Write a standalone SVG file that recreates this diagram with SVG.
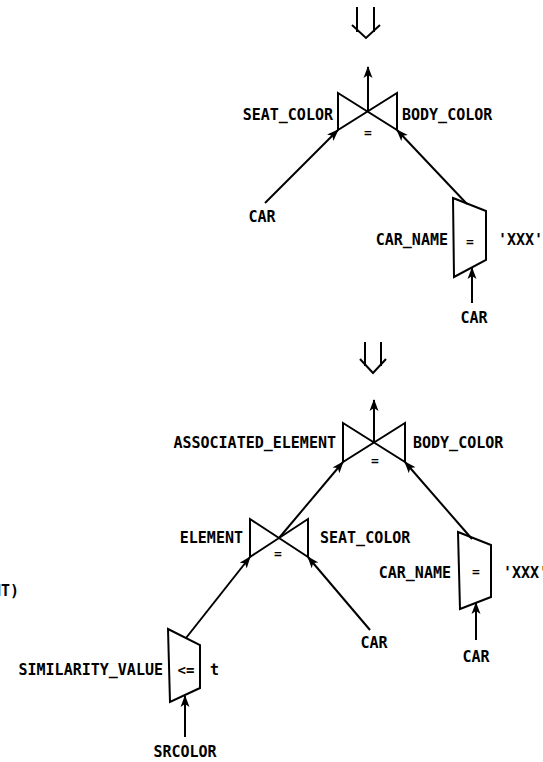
<svg xmlns="http://www.w3.org/2000/svg" width="543" height="762" viewBox="0 0 543 762">
<defs>
<marker id="ah" markerWidth="12" markerHeight="10" refX="11" refY="5" orient="auto" markerUnits="userSpaceOnUse">
<path d="M0,0.5 L12,5 L0,9.5 L3,5 Z" fill="#000"/>
</marker>
</defs>
<style>
.t{font-family:"DejaVu Sans Mono","Liberation Mono",monospace;font-weight:bold;font-size:15px;fill:#000}
.m{text-anchor:middle}
.e{text-anchor:end}
.op{font-size:13px}
.s{fill:none;stroke:#000;stroke-width:2;stroke-linejoin:miter}
.c{fill:none;stroke:#000;stroke-width:2}
</style>
<rect width="543" height="762" fill="#fff"/>

<g id="transform1">
<path class="s" d="M357,7 V32 M374,7 V32 M352,25 L366,38 L380,25"/>
</g>

<g id="join1">
<path class="s" d="M338,93 L397,130 L397,93 L338,130 Z"/>
<text class="t m op" x="368" y="137">=</text>
<text class="t e" x="333" y="120">SEAT_COLOR</text>
<text class="t" x="402" y="120">BODY_COLOR</text>
</g>

<g id="car1"><text class="t m" x="262" y="222">CAR</text></g>

<g id="select1">
<path class="s" d="M453,198 L486,211 L486,260 L454,277 Z"/>
<text class="t m op" x="470" y="246">=</text>
<text class="t e" x="448" y="245">CAR_NAME</text>
<text class="t" x="498" y="245">'XXX'</text>
</g>

<g id="car2"><text class="t m" x="474" y="323">CAR</text></g>

<g id="transform2">
<path class="s" d="M365,342 V366 M381,342 V366 M360,359 L373,373 L386,359"/>
</g>

<g id="join2">
<path class="s" d="M343,423 L405,462 L405,423 L343,462 Z"/>
<text class="t m op" x="375" y="465">=</text>
<text class="t e" x="336" y="448">ASSOCIATED_ELEMENT</text>
<text class="t" x="413" y="448">BODY_COLOR</text>
</g>

<g id="join3">
<path class="s" d="M250,519 L308,557 L308,519 L250,557 Z"/>
<text class="t m op" x="278" y="558">=</text>
<text class="t e" x="243" y="543">ELEMENT</text>
<text class="t" x="320" y="543">SEAT_COLOR</text>
</g>

<g id="car3"><text class="t m" x="374" y="648">CAR</text></g>

<g id="select2">
<path class="s" d="M458,532 L491,545 L491,597 L460,609 Z"/>
<text class="t m op" x="476" y="576">=</text>
<text class="t e" x="451" y="578">CAR_NAME</text>
<text class="t" x="503" y="578">'XXX'</text>
</g>

<g id="car4"><text class="t m" x="476" y="662">CAR</text></g>

<g id="select3">
<path class="s" d="M168,629 L200,645 L200,688 L170,702 Z"/>
<text class="t m" x="186" y="675" style="font-size:14px">&lt;=</text>
<text class="t e" x="163" y="675">SIMILARITY_VALUE</text>
<text class="t" x="210" y="675">t</text>
</g>

<g id="srcolor"><text class="t m" x="185" y="757">SRCOLOR</text></g>

<g id="fragment"><text class="t e" x="19" y="596">NT)</text></g>

<g id="connectors">
<line class="c" x1="368" y1="112" x2="368" y2="67" marker-end="url(#ah)"/>
<line class="c" x1="265" y1="203" x2="338" y2="130" marker-end="url(#ah)"/>
<line class="c" x1="467" y1="204" x2="397" y2="130" marker-end="url(#ah)"/>
<line class="c" x1="472" y1="303" x2="472" y2="268" marker-end="url(#ah)"/>
<line class="c" x1="374" y1="442" x2="374" y2="400" marker-end="url(#ah)"/>
<line class="c" x1="279" y1="538" x2="343" y2="462" marker-end="url(#ah)"/>
<line class="c" x1="472" y1="539" x2="405" y2="462" marker-end="url(#ah)"/>
<line class="c" x1="476" y1="640" x2="476" y2="603" marker-end="url(#ah)"/>
<line class="c" x1="370" y1="630" x2="308" y2="557" marker-end="url(#ah)"/>
<line class="c" x1="186" y1="638" x2="250" y2="557" marker-end="url(#ah)"/>
<line class="c" x1="185" y1="737" x2="185" y2="696" marker-end="url(#ah)"/>
</g>
</svg>
